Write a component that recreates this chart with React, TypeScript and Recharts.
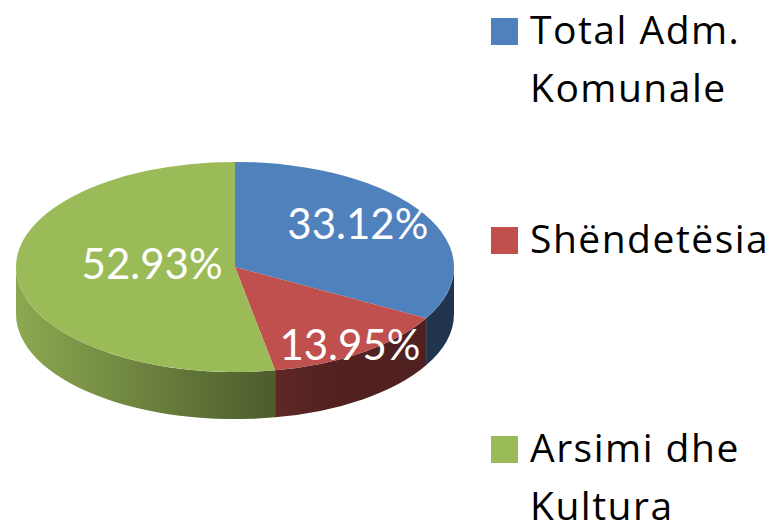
import React from "react";
import { Legend, Pie, PieChart } from "recharts";

const categories = ["Total Adm. Komunale", "Shëndetësia", "Arsimi dhe Kultura"];
const shares = [33.12, 13.95, 52.93];
const colors = ["#4F81BD", "#C0504D", "#9BBB59"];
const legendLines = [["Total Adm.", "Komunale"], ["Shëndetësia"], ["Arsimi dhe", "Kultura"]];

const data = categories.map((name, i) => ({ name, value: shares[i], fill: colors[i] }));

// flattening of the pie and height of the slab
const RY_RATIO = 0.48;
const DEPTH = 47;
// how far out (share of the radius) each label sits, plus a small lift
const LABEL_R = [0.65, 0.9, 0.38];
const LABEL_DY = [-9, 0, -8];

const LABEL_FONT = "Lato, 'Open Sans', sans-serif";
const LEGEND_FONT = "'Open Sans', Lato, sans-serif";

function shade(hex: string, k: number) {
  const n = parseInt(hex.slice(1), 16);
  const c = [(n >> 16) & 255, (n >> 8) & 255, n & 255].map((v) => Math.round(v * k));
  return `rgb(${c[0]},${c[1]},${c[2]})`;
}

function pt(cx: number, cy: number, rx: number, ry: number, deg: number) {
  const a = (deg * Math.PI) / 180;
  return [cx + rx * Math.cos(a), cy - ry * Math.sin(a)];
}

function Slice3D(props: any) {
  const { cx, cy, outerRadius, startAngle, endAngle, fill, index } = props;
  const rx = outerRadius;
  const ry = outerRadius * RY_RATIO;
  const [sx, sy] = pt(cx, cy, rx, ry, startAngle);
  const [ex, ey] = pt(cx, cy, rx, ry, endAngle);
  const large = Math.abs(startAngle - endAngle) > 180 ? 1 : 0;
  const top = `M${cx},${cy} L${sx},${sy} A${rx},${ry} 0 ${large} 1 ${ex},${ey} Z`;

  // only the front half of the rim shows its side wall
  const hi = Math.min(startAngle, 0);
  const lo = Math.max(endAngle, -180);
  let side = "";
  if (hi > lo) {
    const [hx, hy] = pt(cx, cy, rx, ry, hi);
    const [lx, ly] = pt(cx, cy, rx, ry, lo);
    side =
      `M${hx},${hy} A${rx},${ry} 0 0 1 ${lx},${ly} ` +
      `L${lx},${ly + DEPTH} A${rx},${ry} 0 0 0 ${hx},${hy + DEPTH} Z`;
  }
  const gid = `side-grad-${index}`;
  return (
    <g>
      <defs>
        <linearGradient id={gid} gradientUnits="userSpaceOnUse" x1={cx - rx} y1={0} x2={cx + rx} y2={0}>
          <stop offset="0" stopColor={shade(fill, 0.9)} />
          <stop offset="0.55" stopColor={shade(fill, 0.52)} />
          <stop offset="0.7" stopColor={shade(fill, 0.43)} />
          <stop offset="1" stopColor={shade(fill, 0.4)} />
        </linearGradient>
      </defs>
      {side && <path d={side} fill={`url(#${gid})`} />}
      <path d={top} fill={fill} />
    </g>
  );
}

function renderLabel(props: any) {
  const { cx, cy, midAngle, outerRadius, index, value } = props;
  const f = LABEL_R[index];
  const [x, y] = pt(cx, cy, outerRadius * f, outerRadius * RY_RATIO * f, midAngle);
  return (
    <text
      x={x}
      y={y + LABEL_DY[index]}
      fill="#FFFFFF"
      fontFamily={LABEL_FONT}
      fontSize={42}
      textAnchor="middle"
      dominantBaseline="central"
    >
      {`${value.toFixed(2)}%`}
    </text>
  );
}

function renderLegend() {
  return (
    <div style={{ fontFamily: LEGEND_FONT, fontSize: 39, letterSpacing: 1.5, color: "#000" }}>
      {legendLines.map((lines, i) => (
        <div key={i} style={{ position: "relative", height: 209, paddingLeft: 39 }}>
          <div
            style={{ position: "absolute", left: 0, top: 18, width: 27, height: 27, background: colors[i] }}
          />
          {lines.map((l) => (
            <div key={l} style={{ lineHeight: "58px", whiteSpace: "nowrap" }}>
              {l}
            </div>
          ))}
        </div>
      ))}
    </div>
  );
}

export default function App() {
  return (
    <div style={{ position: "absolute", left: 0, top: 0, width: 771, height: 532, overflow: "hidden", background: "#fff" }}>
      <PieChart width={771} height={532} margin={{ top: 0, right: 0, bottom: 0, left: 0 }}>
        <Pie
          data={data}
          dataKey="value"
          nameKey="name"
          cx={235}
          cy={267}
          outerRadius={219}
          startAngle={90}
          endAngle={-270}
          stroke="none"
          shape={Slice3D}
          label={renderLabel}
          labelLine={false}
          isAnimationActive={false}
        />
        <Legend
          content={renderLegend}
          wrapperStyle={{ left: 491, top: 0, width: 280, height: 532 }}
        />
      </PieChart>
    </div>
  );
}
